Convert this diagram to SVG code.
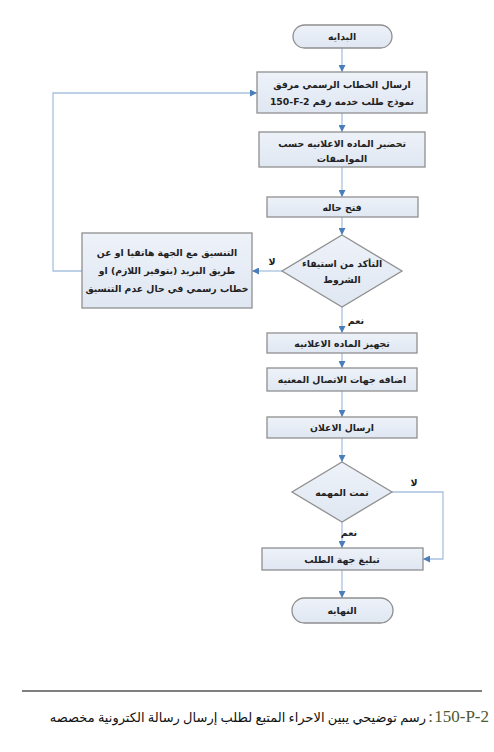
<svg xmlns="http://www.w3.org/2000/svg" width="494" height="752" viewBox="0 0 494 752">
<defs>
<linearGradient id="g" x1="0" y1="0" x2="0" y2="1">
<stop offset="0" stop-color="#eef2f9"/>
<stop offset="1" stop-color="#dfe7f2"/>
</linearGradient>
<marker id="ah" viewBox="0 0 10 10" refX="10" refY="5" markerWidth="7" markerHeight="7" markerUnits="userSpaceOnUse" orient="auto">
<path d="M0,0 L10,5 L0,10 z" fill="#4a7ebb"/>
</marker>
</defs>
<style>
.n{fill:url(#g);stroke:#8f8f8f;stroke-width:1.3}
.t{font-family:"DejaVu Sans","Noto Sans",sans-serif;font-size:9.3px;font-weight:bold;fill:#222;text-anchor:middle}
.c{fill:none;stroke:#a9c1e0;stroke-width:1.3}
.a{marker-end:url(#ah)}
.l{font-family:"DejaVu Sans",sans-serif;font-size:9.5px;font-weight:bold;fill:#222;text-anchor:middle}
</style>
<rect width="494" height="752" fill="#fff"/>
<g id="connectors">
<line class="c a" x1="342" y1="48" x2="342" y2="72"/>
<line class="c a" x1="342" y1="113" x2="342" y2="132"/>
<line class="c a" x1="342" y1="167" x2="342" y2="197"/>
<line class="c a" x1="342" y1="217" x2="342" y2="235"/>
<line class="c a" x1="282" y1="271" x2="252" y2="271"/>
<polyline class="c a" points="82,271 53,271 53,93 257,93"/>
<line class="c a" x1="342" y1="307" x2="342" y2="333"/>
<line class="c a" x1="342" y1="353" x2="342" y2="368"/>
<line class="c a" x1="342" y1="391" x2="342" y2="417"/>
<line class="c a" x1="342" y1="438" x2="342" y2="462"/>
<polyline class="c a" points="392,492 443,492 443,559 423,559"/>
<line class="c a" x1="342" y1="522" x2="342" y2="548"/>
<line class="c a" x1="342" y1="570" x2="342" y2="598"/>
<text class="l" x="272" y="265">لا</text>
<text class="l" x="356" y="324">نعم</text>
<text class="l" x="414" y="486">لا</text>
<text class="l" x="349" y="536">نعم</text>
</g>
<g id="start">
<rect class="n" x="293" y="25" width="99" height="23" rx="11.5"/>
<text class="t" x="342" y="40">البدايه</text>
</g>
<g id="send-letter">
<rect class="n" x="257" y="72" width="170" height="41"/>
<text class="t" x="342" y="88">ارسال الخطاب الرسمي مرفق</text>
<text class="t" x="342" y="105">&#x202B;نموذج طلب خدمه رقم &#x2066;150-F-2&#x2069;&#x202C;</text>
</g>
<g id="prepare">
<rect class="n" x="259" y="132" width="166" height="35"/>
<text class="t" x="342" y="147">تحضير الماده الاعلانيه حسب</text>
<text class="t" x="342" y="162">المواصفات</text>
</g>
<g id="open-case">
<rect class="n" x="267" y="197" width="151" height="20"/>
<text class="t" x="342" y="211">فتح حاله</text>
</g>
<g id="check">
<polygon class="n" points="342,235 402,271 342,307 282,271"/>
<text class="t" x="342" y="267">التأكد من استيفاء</text>
<text class="t" x="342" y="283">الشروط</text>
</g>
<g id="coordinate">
<rect class="n" x="82" y="233" width="170" height="75"/>
<text class="t" x="167" y="256">التنسيق مع الجهة هاتفيا او عن</text>
<text class="t" x="167" y="274">&#x202B;طريق البريد (بتوفير اللازم) او&#x202C;</text>
<text class="t" x="167" y="292">خطاب رسمي في حال عدم التنسيق</text>
</g>
<g id="ready">
<rect class="n" x="267" y="333" width="150" height="20"/>
<text class="t" x="342" y="347">تجهيز الماده الاعلانيه</text>
</g>
<g id="add-contacts">
<rect class="n" x="267" y="368" width="150" height="23"/>
<text class="t" x="342" y="383">اضافه جهات الاتصال المعنيه</text>
</g>
<g id="send-ad">
<rect class="n" x="267" y="417" width="150" height="21"/>
<text class="t" x="342" y="431">ارسال الاعلان</text>
</g>
<g id="done">
<polygon class="n" points="342,462 392,492 342,522 292,492"/>
<text class="t" x="342" y="496">تمت المهمه</text>
</g>
<g id="notify">
<rect class="n" x="262" y="548" width="161" height="22"/>
<text class="t" x="342" y="563">تبليغ جهة الطلب</text>
</g>
<g id="end">
<rect class="n" x="292" y="598" width="101" height="25" rx="12.5"/>
<text class="t" x="342" y="614">النهايه</text>
</g>
<g id="caption">
<line x1="22" y1="691" x2="482" y2="691" stroke="#555" stroke-width="1.5"/>
<text x="489" y="722" text-anchor="end" font-family="'Liberation Serif',serif" font-size="17" fill="#4d5a2e">150-P-2</text>
<text x="433" y="722" text-anchor="end" font-family="'Liberation Serif',serif" font-size="17" fill="#4d5a2e">:</text>
<text x="426" y="722" text-anchor="end" font-family="'Liberation Serif','DejaVu Sans',serif" font-size="13" fill="#111">رسم توضيحي يبين الاحراء المتبع لطلب إرسال رسالة الكترونية مخصصه</text>
</g>
</svg>
